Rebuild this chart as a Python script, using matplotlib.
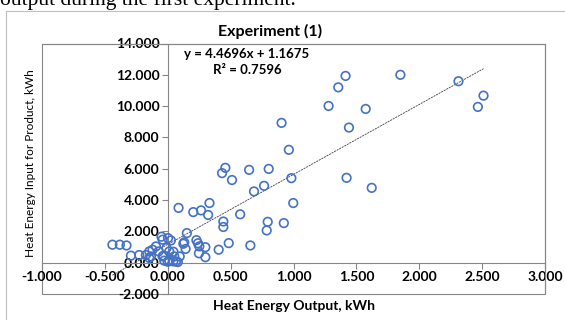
import matplotlib
matplotlib.use("Agg")
import matplotlib.pyplot as plt
from matplotlib.patches import Rectangle
import numpy as np

plt.rcParams['font.family'] = ['Lato', 'DejaVu Sans']

# Heat Energy Output (kWh)
x_out = [0.905, 0.963, 1.279, 1.356, 1.414, 1.574, 1.441, 1.850, 2.312, 2.511,
         2.466, 1.422, 1.622, 0.458, 0.432, 0.511, 0.647, 0.803, 0.686, 0.766,
         0.983, 0.998, 0.086, 0.203, 0.265, 0.332, 0.321, 0.442, 0.442, 0.576,
         0.795, 0.787, 0.923, 0.485, 0.405, 0.657, 0.152, 0.131, 0.142, 0.228,
         0.240, 0.251, 0.299, 0.248, 0.299, 0.095, 0.045, 0.044, 0.065, 0.080,
         0.000, -0.028, 0.012, 0.025, 0.002, -0.041, -0.050, -0.094, -0.073, -0.121,
         -0.134, -0.174, -0.227, -0.293, -0.440, -0.381, -0.328, -0.033, 0.012, -0.010,
         0.124, -0.041, 0.052, -0.147, -0.147]
# Heat Energy Input for Product (kWh)
y_in = [8.93, 7.21, 10.01, 11.20, 11.93, 9.82, 8.63, 12.00, 11.59, 10.67,
        9.95, 5.42, 4.78, 6.06, 5.72, 5.28, 5.93, 5.99, 4.55, 4.91,
        5.40, 3.81, 3.50, 3.23, 3.34, 3.81, 3.05, 2.63, 2.28, 3.09,
        2.61, 2.06, 2.53, 1.25, 0.83, 1.10, 1.89, 1.30, 0.88, 1.44,
        1.24, 1.04, 0.99, 0.60, 0.35, 0.40, 0.70, 0.08, 0.08, 0.04,
        0.06, 0.13, 0.13, 1.42, 1.57, 1.47, 1.66, 1.04, 0.72, 0.83,
        0.40, 0.49, 0.49, 0.45, 1.15, 1.15, 1.10, 0.45, 0.72, 0.94,
        1.21, 0.40, 0.40, 0.72, 0.30]

slope = 4.4696
intercept = 1.1675
r2 = 0.7596

x_ticks = [-1.0, -0.5, 0.0, 0.5, 1.0, 1.5, 2.0, 2.5, 3.0]
y_ticks = [-2.0, 0.0, 2.0, 4.0, 6.0, 8.0, 10.0, 12.0, 14.0]

title = "Experiment (1)"
xlabel = "Heat Energy Output, kWh"
ylabel = "Heat Energy Input for Product, kWh"

W, H = 565, 320
fig = plt.figure(figsize=(W / 100, H / 100), dpi=100)

# cropped document text above the chart
fig.text(0.0, 1 - 5 / H, "output during the first experiment.", family='Liberation Serif',
         fontsize=15.5, va='baseline', ha='left', color='black')

# chart area frame
fig.patches.append(Rectangle((6 / W, -0.2), 1.2, 1 - 11 / H + 0.2, transform=fig.transFigure,
                             fill=False, edgecolor='#BFBFBF', linewidth=0.8))

left, right_px, top_px, bottom_px = 42, 545, 43.5, 294
ax = fig.add_axes([left / W, 1 - bottom_px / H, (right_px - left) / W, (bottom_px - top_px) / H])

ax.set_xlim(x_ticks[0], x_ticks[-1])
ax.set_ylim(y_ticks[0], y_ticks[-1])

ax.scatter(x_out, y_in, s=38, facecolors='none', edgecolors='#4472C4', linewidths=1.2, zorder=3)

xs = np.array([min(x_out), max(x_out)])
ax.plot(xs, slope * xs + intercept, color='#404040', linewidth=0.6, linestyle=(0, (2.5, 1)), zorder=2)

ax.spines['left'].set_position(('data', 0))
ax.spines['bottom'].set_position(('data', 0))
for s in ['left', 'bottom', 'top', 'right']:
    ax.spines[s].set_color('#868686')
    ax.spines[s].set_linewidth(0.8)
ax.add_patch(Rectangle((0, 0), 1, 1, transform=ax.transAxes, fill=False,
                       edgecolor='#868686', linewidth=0.8, clip_on=False, zorder=1))

ax.set_xticks(x_ticks)
ax.set_yticks(y_ticks)
ax.set_xticklabels([f"{v:.3f}" for v in x_ticks])
ax.set_yticklabels([f"{v:.3f}" for v in y_ticks])
ax.tick_params(axis='both', direction='out', length=4, color='#868686', width=0.8,
               labelsize=10, pad=2)
for lab in ax.get_xticklabels() + ax.get_yticklabels():
    lab.set_fontweight('bold')

fig.text(270 / W, 1 - 31 / H, title, ha='center', va='center', fontsize=11.5, fontweight='bold')
fig.text(294 / W, 1 - 306 / H, xlabel, ha='center', va='center', fontsize=10, fontweight='bold')
fig.text(31 / W, 1 - 163 / H, ylabel, ha='center', va='center', rotation=90, fontsize=8.5)

ax.text(247 / W, 1 - 54 / H, f"y = {slope}x + {intercept}", transform=fig.transFigure,
        ha='center', va='center', fontsize=9.5, fontweight='bold')
ax.text(247 / W, 1 - 70 / H, f"R² = {r2}", transform=fig.transFigure,
        ha='center', va='center', fontsize=9.5, fontweight='bold')

fig.savefig("out.png", dpi=100)
